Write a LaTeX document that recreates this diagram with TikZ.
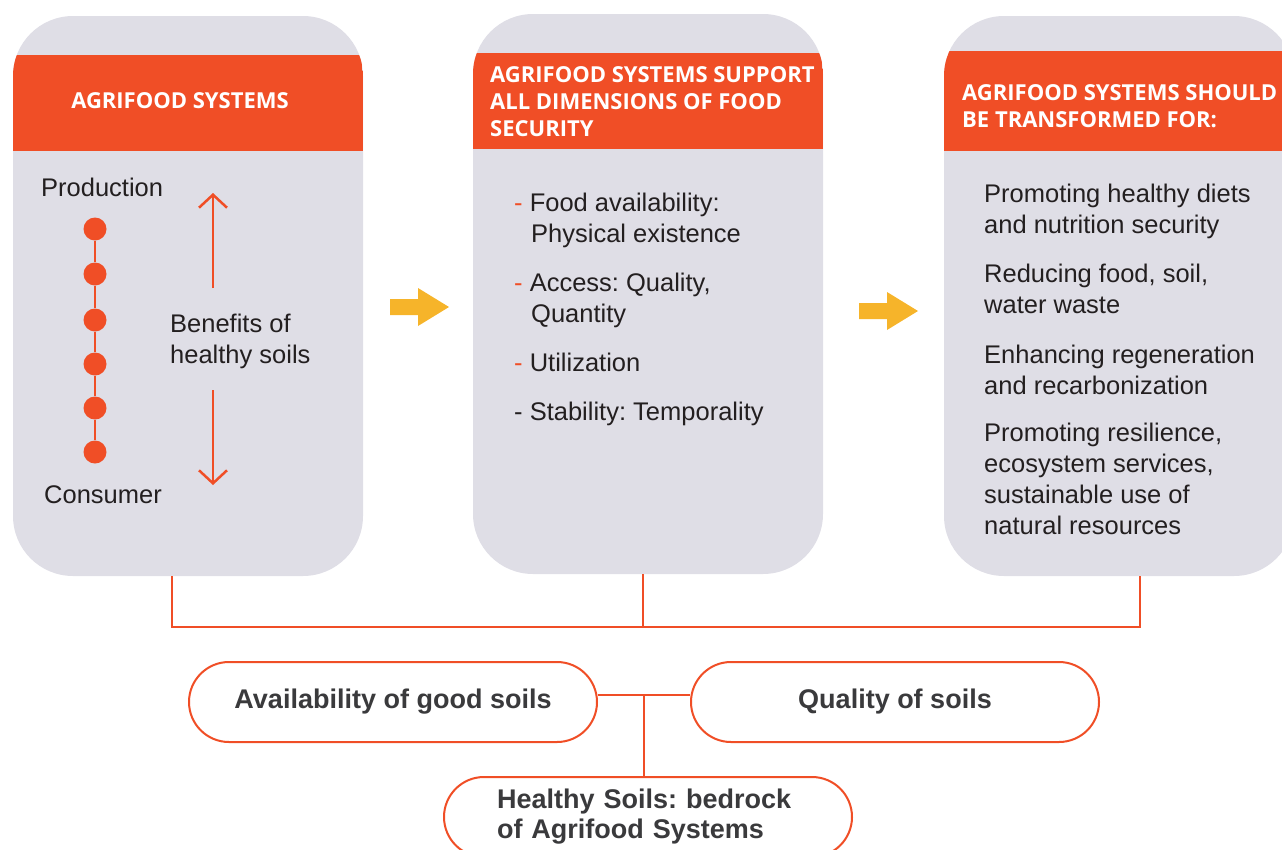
\documentclass[tikz,border=0pt]{standalone}
\usepackage{fontspec}
\setmainfont{Liberation Sans}
\newfontfamily\hfont{Open Sans}
\usetikzlibrary{arrows.meta,calc}
\definecolor{boxgray}{HTML}{DFDEE6}
\definecolor{hdr}{HTML}{F04E26}
\definecolor{yel}{HTML}{F6B42A}
\definecolor{txt}{HTML}{231F20}
\definecolor{pilltxt}{HTML}{3A3A3C}
\frenchspacing
\begin{document}
\begin{tikzpicture}[x=1pt,y=-1pt,
  card/.style={fill=boxgray, rounded corners=60pt, minimum width=350pt, minimum height=560pt, inner sep=0pt},
  band/.style n args={2}{path picture={\fill[hdr, sharp corners] ([yshift=-#1]path picture bounding box.north west) rectangle ([yshift=-#2]path picture bounding box.north east);}},
  body/.style={font=\fontsize{25.5}{31}\selectfont, text=txt, anchor=base west, inner sep=0pt},
  head/.style={font=\hfont\bfseries\fontsize{22}{27}\selectfont, text=white, anchor=base west, inner sep=0pt},
  dot/.style={circle, fill=hdr, minimum size=23pt, inner sep=0pt},
  benefit/.style={draw=hdr, line width=2.5pt, -{Straight Barb[length=13pt,width=28pt]}},
  conn/.style={draw=hdr, line width=1.8pt},
  pill/.style={draw=hdr, line width=2pt, fill=white, rounded corners=40pt, minimum width=408pt, minimum height=80pt, inner sep=0pt, font=\bfseries\fontsize{27}{30}\selectfont, text=pilltxt}
]
\clip (0,0) rectangle (1282,849);

% cards
\node[card, band={39pt}{135pt}] (b1) at (188,296) {};
\node[card, band={39pt}{135pt}] (b2) at (648,294) {};
\node[card, band={35pt}{135pt}] (b3) at (1119,296) {};

% headers
\node[head, anchor=base] (h1) at (180,108) {AGRIFOOD SYSTEMS};
\node[head] (h2a) at (490,82) {AGRIFOOD SYSTEMS SUPPORT};
\node[head] (h2b) at (490,109) {ALL DIMENSIONS OF FOOD};
\node[head] (h2c) at (490,136) {SECURITY};
\node[head] (h3a) at (962,100) {AGRIFOOD SYSTEMS SHOULD};
\node[head] (h3b) at (962,127) {BE TRANSFORMED FOR:};

% box 1
\node[body] (prod) at (41,196) {Production};
\node[body] (cons) at (44,503) {Consumer};
\node[body] (ben1) at (170,332) {Benefits of};
\node[body] (ben2) at (170,363) {healthy soils};
\node[dot] (d1) at (95,229) {};
\node[dot] (d2) at (95,274) {};
\node[dot] (d3) at (95,320) {};
\node[dot] (d4) at (95,364) {};
\node[dot] (d5) at (95,408) {};
\node[dot] (d6) at (95,452) {};
\draw[hdr, line width=2pt] (d1) -- (d2) -- (d3) -- (d4) -- (d5) -- (d6);
\coordinate (au1) at (213,288);
\coordinate (au2) at (213,193);
\coordinate (ad1) at (213,390);
\coordinate (ad2) at (213,485);
\draw[benefit] (au1) -- (au2);
\draw[benefit] (ad1) -- (ad2);

% box 2
\node[body] (i1a) at (514,211) {\textcolor{hdr}{-} Food availability:};
\node[body] (i1b) at (531,242) {Physical existence};
\node[body] (i2a) at (514,291) {\textcolor{hdr}{-} Access: Quality,};
\node[body] (i2b) at (531,322) {Quantity};
\node[body] (i3) at (514,371) {\textcolor{hdr}{-} Utilization};
\node[body] (i4) at (514,420) {- Stability: Temporality};

% box 3
\node[body] (r1a) at (984,202) {Promoting healthy diets};
\node[body] (r1b) at (984,233) {and nutrition security};
\node[body] (r2a) at (984,282) {Reducing food, soil,};
\node[body] (r2b) at (984,313) {water waste};
\node[body] (r3a) at (984,363) {Enhancing regeneration};
\node[body] (r3b) at (984,394) {and recarbonization};
\node[body] (r4a) at (984,441) {Promoting resilience,};
\node[body] (r4b) at (984,472) {ecosystem services,};
\node[body] (r4c) at (984,503) {sustainable use of};
\node[body] (r4d) at (984,534) {natural resources};

% yellow arrows
\fill[yel] (390,299) -- (418,299) -- (418,288) -- (449,307) -- (418,326) -- (418,315) -- (390,315) -- cycle;
\fill[yel] (859,303) -- (887,303) -- (887,292) -- (918,311) -- (887,330) -- (887,319) -- (859,319) -- cycle;

% bracket
\coordinate (jb) at (643,627);
\draw[conn] ([xshift=-16pt]b1.south) |- (jb) -| ([xshift=21pt]b3.south);
\draw[conn] ([xshift=-5pt]b2.south) -- (jb);

% pills
\node[pill] (pa) at (393,702) {Availability of good soils};
\node[pill] (pq) at (895,702) {Quality of soils};
\node[pill, align=left, text width=302pt] (hs) at (648,817) {Healthy Soils: bedrock\\of Agrifood Systems};
\coordinate (pj) at ($(pa.east)!0.5!(pq.west)$);
\draw[conn] ([yshift=7pt]pa.east) -- ([yshift=7pt]pq.west);
\draw[conn] ([yshift=7pt]pj) -- (pj |- hs.north);
\end{tikzpicture}
\end{document}
